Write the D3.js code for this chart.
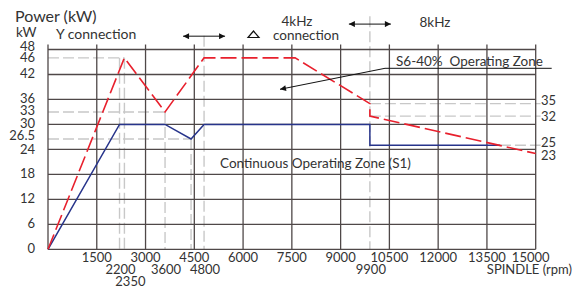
<!DOCTYPE html>
<html>
<head>
<meta charset="utf-8">
<script src="https://cdn.jsdelivr.net/npm/d3@7"></script>
<style>
html,body{margin:0;padding:0;background:#fff;}
svg{display:block;}
text{font-family:Lato,"Open Sans",sans-serif;fill:#333;}
</style>
</head>
<body>
<svg id="chart" width="574" height="288"></svg>
<script>
// ---- data ----
const xGridTicks = [1500,3000,4500,6000,7500,9000,10500,12000,13500,15000];
const yGridTicks = [0,6,12,18,24,30,36,42,48];
const yTickLabels = [0,6,12,18,24,26.5,30,33,36,42,46,48];
const xTickRow1 = [1500,3000,4500,6000,7500,9000,10500,12000,13500,15000];
const xTickRow2 = [2200,3600,4800,9900];
const xTickRow3 = [2350];
const rightLabels = [35,32,25,23];

// S6-40% operating zone (red dashed): [rpm, kW]
const s6Rpm = [0,2350,3600,4800,7600,9900,9900,15000];
const s6Kw  = [0,46,33,46,46,35,32,23];
// S1 continuous operating zone (blue): [rpm, kW]
const s1Rpm = [0,2200,3600,4400,4800,9900,9900,13900];
const s1Kw  = [0,30,30,26.5,30,30,25,25];

// grey reference lines
const refH = [ {kw:46,from:0,to:2350},{kw:33,from:0,to:3600},{kw:26.5,from:0,to:4400},
               {kw:35,from:9900,to:15150},{kw:32,from:9900,to:15150},{kw:25,from:13900,to:15150} ];
const refV = [ {rpm:2200,top:46},{rpm:2350,top:46},{rpm:3600,top:33},{rpm:4400,top:26.5},
               {rpm:4800,top:51.3},{rpm:9900,top:56} ];
const switchPoints = [ {rpm:4800,kw:51.2},{rpm:9900,kw:54.1} ];

// ---- layout ----
const svg = d3.select("#chart");
const x = d3.scaleLinear().domain([0,15000]).range([48,535.7]);
const y = d3.scaleLinear().domain([0,48]).range([249.3,49.5]);

const gridColor = "#4f4848";
const defs = svg.append("defs");
defs.append("marker").attr("id","ah").attr("viewBox","0 0 10 10").attr("refX",10).attr("refY",5)
  .attr("markerWidth",8).attr("markerHeight",6).attr("markerUnits","userSpaceOnUse").attr("orient","auto-start-reverse")
  .append("path").attr("d","M0,0L10,5L0,10z").attr("fill","#111");

// grey dashed reference lines
const gRef = svg.append("g").attr("stroke","#c8c8c8").attr("stroke-width",1.4).attr("stroke-dasharray","11,4").attr("fill","none");
refH.forEach(d=>gRef.append("line").attr("x1",x(d.from)).attr("x2",x(d.to)).attr("y1",y(d.kw)).attr("y2",y(d.kw)));
refV.forEach(d=>gRef.append("line").attr("x1",x(d.rpm)).attr("x2",x(d.rpm)).attr("y1",y(d.top)).attr("y2",y(0)));

// grid
const gGrid = svg.append("g").attr("stroke",gridColor).attr("stroke-width",1.3);
yGridTicks.forEach(v=>gGrid.append("line").attr("x1",x(0)).attr("x2",x(15000)).attr("y1",y(v)).attr("y2",y(v)));
xGridTicks.forEach(v=>gGrid.append("line").attr("x1",x(v)).attr("x2",x(v)).attr("y1",y(49.2)).attr("y2",y(0)));
gGrid.append("line").attr("x1",x(0)).attr("x2",x(0)).attr("y1",y(49.2)).attr("y2",y(0));

// curves
const line = d3.line().x(d=>x(d[0])).y(d=>y(d[1]));
svg.append("path").datum(s1Rpm.map((r,i)=>[r,s1Kw[i]])).attr("d",line)
  .attr("fill","none").attr("stroke","#27348b").attr("stroke-width",1.5);
svg.append("path").datum(s6Rpm.map((r,i)=>[r,s6Kw[i]])).attr("d",line)
  .attr("fill","none").attr("stroke","#e8202d").attr("stroke-width",1.6).attr("stroke-dasharray","16,5");

// y tick labels (nudge the crowded pairs apart slightly)
const yNudge = {48:-2, 46:1, 26.5:-2.5, 24:1};
svg.append("g").selectAll("text").data(yTickLabels).join("text")
  .attr("x",35).attr("y",d=>y(d)-1+(yNudge[d]||0)).attr("dy","0.35em").attr("text-anchor","end")
  .attr("font-size",13).text(d=>d);

// right labels
const rNudge = {35:-3, 32:0, 25:-2.5, 23:1.5};
svg.append("g").selectAll("text").data(rightLabels).join("text")
  .attr("x",541).attr("y",d=>y(d)+rNudge[d]).attr("dy","0.35em")
  .attr("font-size",13).text(d=>d);

// x tick labels
const xl = svg.append("g").attr("font-size",13);
xl.selectAll(".r1").data(xTickRow1).join("text").attr("class","r1")
  .attr("x",d=>x(d)+(d===15000?-5:0)).attr("y",262).attr("text-anchor","middle").text(d=>d);
xl.selectAll(".r2").data(xTickRow2).join("text").attr("class","r2")
  .attr("x",d=>x(d)+1).attr("y",274).attr("text-anchor","middle").text(d=>d);
xl.selectAll(".r3").data(xTickRow3).join("text").attr("class","r3")
  .attr("x",d=>x(d)+6).attr("y",285.5).attr("text-anchor","middle").text(d=>d);
svg.append("text").attr("x",572).attr("y",274).attr("text-anchor","end").attr("font-size",13).text("SPINDLE (rpm)");

// titles
svg.append("text").attr("x",15).attr("y",21.7).attr("font-size",16).text("Power (kW)");
svg.append("text").attr("x",16).attr("y",36.7).attr("font-size",13.5).text("kW");
svg.append("text").attr("x",56).attr("y",39.3).attr("font-size",14).text("Y connection");
svg.append("text").attr("x",297).attr("y",26).attr("font-size",13.5).attr("text-anchor","middle").text("4kHz");
svg.append("text").attr("x",306).attr("y",40).attr("font-size",13.5).attr("text-anchor","middle").text("connection");
svg.append("path").attr("d","M248,37.5L253.5,31L259,37.5Z").attr("fill","none").attr("stroke","#111").attr("stroke-width",1.2);
svg.append("text").attr("x",435).attr("y",27).attr("font-size",13.5).attr("text-anchor","middle").text("8kHz");

// switching arrows
switchPoints.forEach(d=>{
  svg.append("line").attr("x1",x(d.rpm)-21).attr("x2",x(d.rpm)+21).attr("y1",y(d.kw)).attr("y2",y(d.kw))
    .attr("stroke","#111").attr("stroke-width",1).attr("marker-start","url(#ah)").attr("marker-end","url(#ah)");
});

// zone annotations
svg.append("text").attr("x",396).attr("y",66).attr("font-size",13.5).text("S6-40%\u00a0 Operating Zone");
svg.append("polyline").attr("points","551.7,68.3 385,68.3 280,89.3").attr("fill","none")
  .attr("stroke","#111").attr("stroke-width",1).attr("marker-end","url(#ah)");
svg.append("text").attr("x",220).attr("y",167.5).attr("font-size",13.5).text("Continuous Operating Zone (S1)");
</script>
</body>
</html>
